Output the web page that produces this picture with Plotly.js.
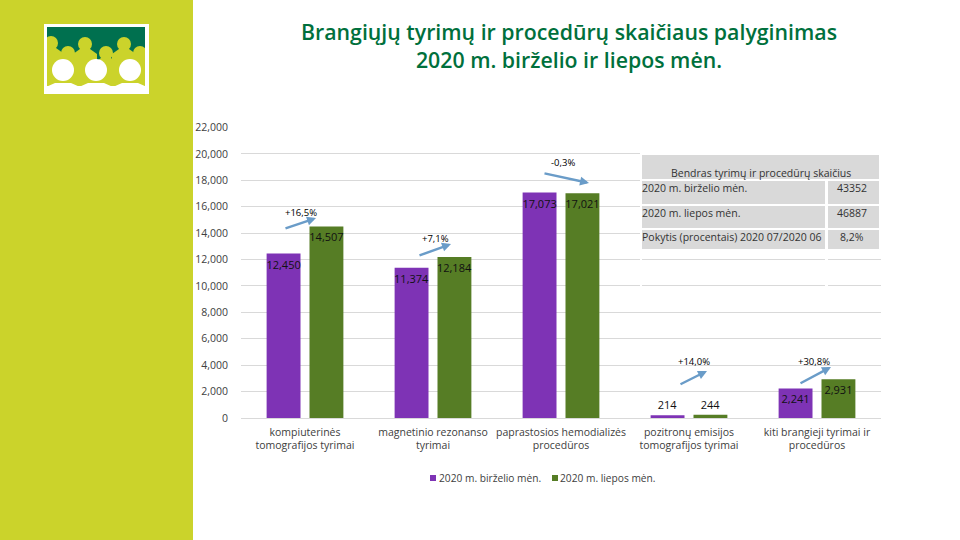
<!DOCTYPE html>
<html><head><meta charset="utf-8">
<script src="https://cdn.plot.ly/plotly-3.0.1.min.js"></script>
<style>html,body{margin:0;padding:0;background:#fff}#c{width:960px;height:540px}</style>
</head><body><div id="c"></div>
<script>
const categories = ["kompiuterinės<br>tomografijos tyrimai","magnetinio rezonanso<br>tyrimai","paprastosios hemodializės<br>procedūros","pozitronų emisijos<br>tomografijos tyrimai","kiti brangieji tyrimai ir<br>procedūros"];
const june = [12450,11374,17073,214,2241];
const july = [14507,12184,17021,244,2931];
const seriesNames = ["2020 m. birželio mėn.","2020 m. liepos mėn."];
const changes = ["+16,5%","+7,1%","-0,3%","+14,0%","+30,8%"];
const tableRows = [["2020 m. birželio mėn.","43352"],["2020 m. liepos mėn.","46887"],["Pokytis (procentais) 2020 07/2020 06","8,2%"]];
const tableHead = "Bendras tyrimų ir procedūrų skaičius";

const W=960,H=540,FONT='"Open Sans", sans-serif';
const PURPLE='#7E33B5',MOSS='#567D25';
const px=x=>x/W, py=y=>1-y/H;
const box=(x0,y0,x1,y1,c)=>({type:'rect',xref:'paper',yref:'paper',x0:px(x0),x1:px(x1),y0:py(y0),y1:py(y1),fillcolor:c,line:{width:0},layer:'above'});
const disc=(cx,cy,r,c)=>({type:'circle',xref:'paper',yref:'paper',x0:px(cx-r),x1:px(cx+r),y0:py(cy-r),y1:py(cy+r),fillcolor:c,line:{width:0},layer:'above'});
const poly=(pts,c)=>({type:'path',xref:'paper',yref:'paper',path:'M'+pts.map(p=>px(p[0])+','+py(p[1])).join('L')+'Z',fillcolor:c,line:{width:0},layer:'above'});
const label=(x,y,t,o)=>Object.assign({xref:'paper',yref:'paper',x:px(x),y:py(y),text:t,showarrow:false,font:{family:FONT,size:10.5,color:'#333'},xanchor:'left',yanchor:'middle'},o||{});
const arrow=(x0,y0,x1,y1)=>({xref:'paper',yref:'paper',x:px(x1),y:py(y1),ax:x0-x1,ay:y0-y1,axref:'pixel',ayref:'pixel',text:'',showarrow:true,arrowhead:2,arrowsize:0.75,arrowwidth:2.4,arrowcolor:'#6A9CC8'});

const OL='#CBD32B',GR='#00704F';
const shapes=[
 box(0,0,193,540,OL),
 box(44,24,149,94,'#fff'),
 box(47,27,145,70,GR),
 box(47,64,145,86,OL)
];
[[51,43],[85,44],[124,44],[68,53],[106,53],[140,53]].forEach(h=>{
 shapes.push(disc(h[0],h[1],7,OL));
 shapes.push(poly([[h[0]-5,h[1]+5],[h[0]+5,h[1]+5],[h[0]+12,h[1]+10],[h[0]+12,66],[h[0]-12,66],[h[0]-12,h[1]+10]],OL));
});
shapes.push(box(44,24,47,94,'#fff'),box(145,24,149,94,'#fff'));
[[63,70],[96,70],[130,70]].forEach(h=>{
 shapes.push(disc(h[0],h[1],11,'#fff'));
 shapes.push(poly([[h[0]-8,83],[h[0]+8,83],[h[0]+17,87],[h[0]+17,94],[h[0]-17,94],[h[0]-17,87]],'#fff'));
});
shapes.push(box(47,87,145,94,'#fff'));
const G='#D9D9D9';
shapes.push(box(640,150,882,252,'#fff'),
 box(642,155,879,179,G),
 box(642,181,825,204,G),box(828,181,879,204,G),
 box(642,206,825,228,G),box(828,206,879,228,G),
 box(642,230,825,249,G),box(828,230,879,249,G),
 box(640,250,642,292,'#fff'),box(825,250,828,292,'#fff'));
// legend keys
shapes.push(box(430,475,436,481,PURPLE),box(552,475,558,481,MOSS));

const annX=[301,435,563,694,814], annY=[212,238,163,361,361];
const annotations=[];
changes.forEach((t,i)=>annotations.push(label(annX[i],annY[i],t,{xanchor:'center',font:{family:FONT,size:9.5,color:'#000'}})));
annotations.push(arrow(284,229,316,218),arrow(418,256,451,244),arrow(543,173,589,183),arrow(679,385,707,371),arrow(799,384,831,367));
annotations.push(label(761,173,tableHead,{xanchor:'center'}));
const rowY=[188,213,237];
tableRows.forEach((r,i)=>{
 annotations.push(label(640,rowY[i],r[0]));
 annotations.push(label(852,rowY[i],r[1],{xanchor:'center'}));
});
annotations.push(label(437,478,seriesNames[0],{font:{family:FONT,size:10.2,color:'#404040'}}));
annotations.push(label(558,478,seriesNames[1],{font:{family:FONT,size:10.2,color:'#404040'}}));

const fmt=a=>a.map(v=>v.toLocaleString('en-US'));
const pos=a=>a.map(v=>v<1000?'outside':'inside');
const bar=(y,name,color)=>({type:'bar',x:categories,y:y,name:name,marker:{color:color},text:fmt(y),
 textposition:pos(y),insidetextanchor:'end',textangle:0,constraintext:'none',cliponaxis:false,
 textfont:{family:FONT,size:11,color:'#111'},hoverinfo:'x+y'});

Plotly.newPlot('c',[bar(june,seriesNames[0],PURPLE),bar(july,seriesNames[1],MOSS)],{
 width:W,height:H,margin:{l:0,r:0,t:0,b:0},paper_bgcolor:'#fff',plot_bgcolor:'#fff',
 title:{text:"Brangiųjų tyrimų ir procedūrų skaičiaus palyginimas<br>2020 m. birželio ir liepos mėn.",x:569/W,xanchor:'center',y:1-40/H,yanchor:'middle',
  font:{family:FONT,size:21.3,weight:600,color:'#00703C'}},
 barmode:'group',bargap:0.33,bargroupgap:0.21,
 xaxis:{domain:[241/W,881/W],type:'category',tickfont:{family:FONT,size:10.5,color:'#404040'},showline:false,ticks:'',automargin:false,tickangle:0,ticklabelstandoff:6},
 yaxis:{domain:[1-418/H,1-127.5/H],range:[0,22000],dtick:2000,tickformat:',d',gridcolor:G,gridwidth:1,zeroline:true,zerolinecolor:G,zerolinewidth:1,showline:false,ticks:'',ticklabelstandoff:12,
  tickfont:{family:FONT,size:10.5,color:'#404040'},automargin:false},
 showlegend:false,shapes:shapes,annotations:annotations
},{displayModeBar:false,staticPlot:true});
</script></body></html>
